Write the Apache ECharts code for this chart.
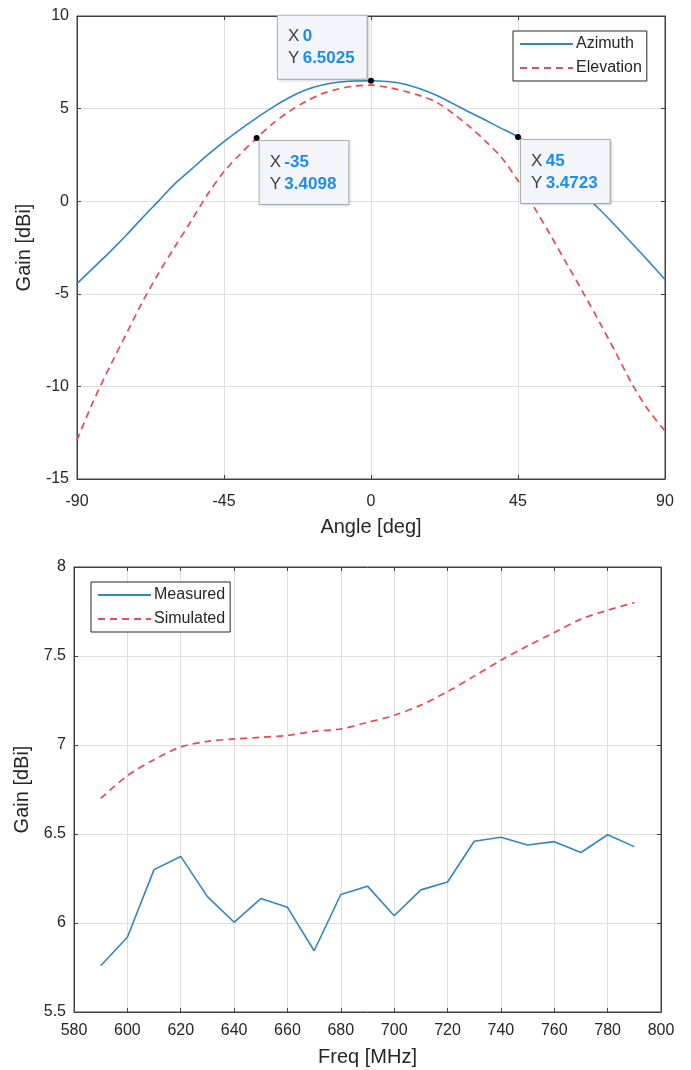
<!DOCTYPE html>
<html>
<head>
<meta charset="utf-8">
<script src="https://cdn.jsdelivr.net/npm/echarts@6/dist/echarts.min.js"></script>
<style>
html,body{margin:0;padding:0;background:#fff;}
#chart{width:691px;height:1070px;}
</style>
</head>
<body>
<div id="chart"></div>
<script>
// ---------- Top chart data (pattern cuts) ----------
var angles = [-90,-85,-80,-75,-70,-65,-60,-55,-50,-45,-40,-35,-30,-25,-20,-15,-10,-5,0,5,10,15,20,25,30,35,40,45,50,55,60,65,70,75,80,85,90];
var azimuth = [-4.45,-3.6,-2.75,-1.85,-0.9,0.02,0.95,1.72,2.5,3.22,3.88,4.5,5.08,5.6,6.0,6.27,6.42,6.49,6.5025,6.46,6.33,6.07,5.72,5.28,4.82,4.38,3.92,3.4723,2.8,2.05,1.25,0.4,-0.45,-1.35,-2.3,-3.25,-4.23];
var elevation = [-12.9,-10.8,-8.95,-7.2,-5.45,-3.88,-2.45,-1.05,0.38,1.6,2.55,3.4098,4.2,4.85,5.38,5.8,6.06,6.22,6.27,6.15,5.95,5.7,5.35,4.75,4.05,3.25,2.35,1.1,-0.35,-1.85,-3.4,-4.95,-6.55,-8.2,-9.9,-11.3,-12.4];
var angleTicks = {min:-90, max:90, interval:45};
var gainTicksTop = {min:-15, max:10, interval:5};

// datatips
var tipSeries = ['Azimuth','Elevation','Azimuth'];
var tipX = [0, -35, 45];
var tipY = [6.5025, 3.4098, 3.4723];

// ---------- Bottom chart data (gain vs frequency) ----------
var freqs = [590,600,610,620,630,640,650,660,670,680,690,700,710,720,730,740,750,760,770,780,790];
var measured = [5.76,5.92,6.30,6.374,6.148,6.004,6.137,6.088,5.844,6.16,6.207,6.041,6.186,6.23,6.459,6.482,6.438,6.457,6.396,6.496,6.429];
var simulated = [6.70,6.827,6.917,6.989,7.02,7.034,7.043,7.054,7.077,7.09,7.127,7.167,7.224,7.30,7.387,7.476,7.557,7.632,7.707,7.757,7.80];
var freqTicks = {min:580, max:800, interval:20};
var gainTicksBot = {min:5.5, max:8, interval:0.5};

var FONT = '"Liberation Sans", Arial, Helvetica, sans-serif';
var AX = '#404040';
var GRIDC = '#dedede';
var BLUE = '#3385c0';
var RED = '#e84a55';

function pairs(xs, ys){ return xs.map(function(x,i){ return [x, ys[i]]; }); }

function tipsFor(name){
  var out = [];
  tipSeries.forEach(function(s,i){
    if (s !== name) return;
    var above = tipX[i] === 0;
    out.push({
      coord:[tipX[i], tipY[i]],
      value: tipY[i],
      label:{ position: above ? [-90,-62] : [6,6], align:'left', verticalAlign:'top' }
    });
  });
  return {
    symbol:'circle', symbolSize:6,
    itemStyle:{color:'#000'},
    z: 20,
    label:{
      show:true,
      formatter:function(p){ return '{k|X} {v|' + p.data.coord[0] + '}\n{k|Y} {v|' + Number(p.data.coord[1]).toFixed(4) + '}'; },
      backgroundColor:'#f4f5fa',
      borderColor:'#b4b4b4',
      borderWidth:1,
      padding:[10,12,9,10],
      shadowColor:'rgba(0,0,0,0.15)', shadowBlur:3, shadowOffsetX:1, shadowOffsetY:1,
      rich:{
        k:{fontFamily:FONT, fontSize:17, color:'#404040', lineHeight:22},
        v:{fontFamily:FONT, fontSize:17, color:'#1b8cf0', fontWeight:'bold', lineHeight:22}
      }
    },
    data: out
  };
}

function mainX(gi, t, name, gap, lm){
  return {gridIndex:gi, type:'value', position:'bottom', min:t.min, max:t.max, interval:t.interval,
    name:name, nameLocation:'middle', nameGap:gap,
    nameTextStyle:{fontFamily:FONT, fontSize:20, color:'#262626'},
    axisLine:{show:true, onZero:false, lineStyle:{color:AX, width:1}},
    axisTick:{show:true, inside:true, length:4, lineStyle:{color:AX}},
    axisLabel:{fontFamily:FONT, fontSize:16, color:'#262626', margin:lm},
    splitLine:{show:true, lineStyle:{color:GRIDC, width:1}}};
}
function mainY(gi, t, name, gap){
  return {gridIndex:gi, type:'value', position:'left', min:t.min, max:t.max, interval:t.interval,
    name:name, nameLocation:'middle', nameGap:gap,
    nameTextStyle:{fontFamily:FONT, fontSize:20, color:'#262626'},
    axisLine:{show:true, onZero:false, lineStyle:{color:AX, width:1}},
    axisTick:{show:true, inside:true, length:4, lineStyle:{color:AX}},
    axisLabel:{fontFamily:FONT, fontSize:16, color:'#262626', margin:8},
    splitLine:{show:true, lineStyle:{color:GRIDC, width:1}}};
}
function sideX(gi, t){
  return {gridIndex:gi, type:'value', position:'top', min:t.min, max:t.max, interval:t.interval,
    axisLine:{show:true, onZero:false, lineStyle:{color:AX, width:1}},
    axisTick:{show:true, inside:true, length:4, lineStyle:{color:AX}},
    axisLabel:{show:false}, splitLine:{show:false}};
}
function sideY(gi, t){
  return {gridIndex:gi, type:'value', position:'right', min:t.min, max:t.max, interval:t.interval,
    axisLine:{show:true, onZero:false, lineStyle:{color:AX, width:1}},
    axisTick:{show:true, inside:true, length:4, lineStyle:{color:AX}},
    axisLabel:{show:false}, splitLine:{show:false}};
}

var legendStyle = {
  orient:'vertical',
  backgroundColor:'#fff',
  borderColor:'#262626', borderWidth:1,
  padding:[5,5,5,6],
  itemWidth:53, itemHeight:14, itemGap:8,
  itemStyle:{opacity:0},
  textStyle:{fontFamily:FONT, fontSize:16, color:'#262626', padding:[0,0,0,-2]}
};

var chart = echarts.init(document.getElementById('chart'), null, {renderer:'canvas'});
chart.setOption({
  animation:false,
  backgroundColor:'#fff',
  grid:[
    {left:77, right:26, top:16, height:463, show:true, borderColor:AX, borderWidth:1, backgroundColor:'#fff'},
    {left:74, right:30, top:567, height:445, show:true, borderColor:AX, borderWidth:1, backgroundColor:'#fff'}
  ],
  xAxis:[
    mainX(0, angleTicks, 'Angle [deg]', 38, 15),
    sideX(0, angleTicks),
    mainX(1, freqTicks, 'Freq [MHz]', 35, 11),
    sideX(1, freqTicks)
  ],
  yAxis:[
    mainY(0, gainTicksTop, 'Gain [dBi]', 37),
    sideY(0, gainTicksTop),
    mainY(1, gainTicksBot, 'Gain [dBi]', 35),
    sideY(1, gainTicksBot)
  ],
  legend:[
    Object.assign({left:513, top:31, data:['Azimuth','Elevation']}, legendStyle),
    Object.assign({left:91, top:582, data:['Measured','Simulated']}, legendStyle)
  ],
  series:[
    {name:'Azimuth', type:'line', xAxisIndex:0, yAxisIndex:0, data:pairs(angles, azimuth),
     smooth:0.3, symbol:'none', showSymbol:false, lineStyle:{color:BLUE, width:1.6}, itemStyle:{color:BLUE},
     markPoint: tipsFor('Azimuth'), z:3},
    {name:'Elevation', type:'line', xAxisIndex:0, yAxisIndex:0, data:pairs(angles, elevation),
     smooth:0.3, symbol:'none', showSymbol:false, lineStyle:{color:RED, width:1.7, type:[7,5]}, itemStyle:{color:RED},
     markPoint: tipsFor('Elevation'), z:2},
    {name:'Measured', type:'line', xAxisIndex:2, yAxisIndex:2, data:pairs(freqs, measured),
     symbol:'none', showSymbol:false, lineStyle:{color:BLUE, width:1.6}, itemStyle:{color:BLUE}},
    {name:'Simulated', type:'line', xAxisIndex:2, yAxisIndex:2, data:pairs(freqs, simulated),
     smooth:0.3, symbol:'none', showSymbol:false, lineStyle:{color:RED, width:1.7, type:[7,5]}, itemStyle:{color:RED}}
  ]
});
</script>
</body>
</html>
